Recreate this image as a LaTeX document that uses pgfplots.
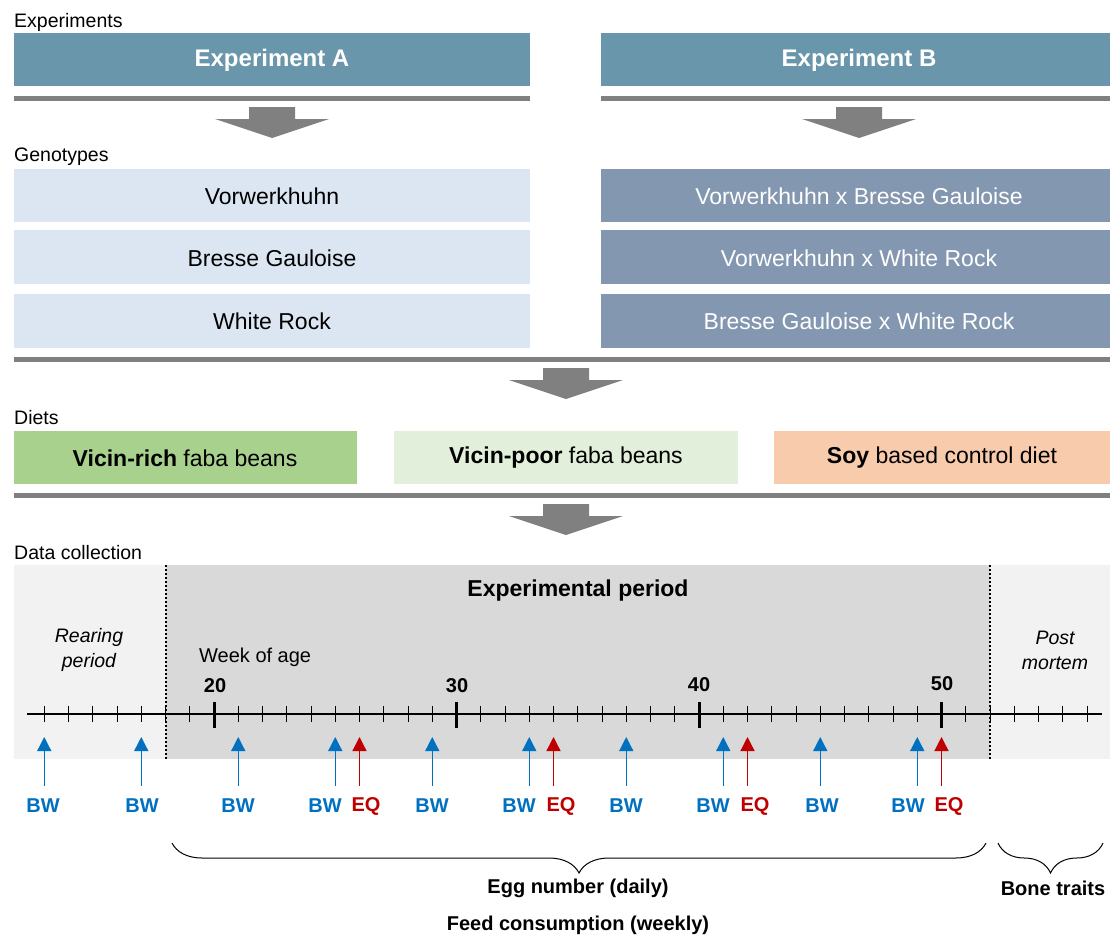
\documentclass[border=0pt]{standalone}
\usepackage{fontspec}
\setmainfont{Liberation Sans}
\usepackage{pgfplots}
\usepackage{pgfplotstable}
\pgfplotsset{compat=1.18}
\usetikzlibrary{arrows.meta,decorations.pathreplacing}

\definecolor{expbox}{HTML}{6996AA}
\definecolor{genoA}{HTML}{DCE6F2}
\definecolor{genoB}{HTML}{8497B0}
\definecolor{dietrich}{HTML}{A9D18E}
\definecolor{dietpoor}{HTML}{E2EFDA}
\definecolor{dietsoy}{HTML}{F8CBAD}
\definecolor{bargray}{HTML}{808080}
\definecolor{regionlight}{HTML}{F2F2F2}
\definecolor{regiondark}{HTML}{D9D9D9}
\definecolor{bwblue}{HTML}{0070C0}
\definecolor{eqred}{HTML}{C00000}

% weeks on the time line (week, start of the tick in pixels)
\pgfplotstableread[row sep=\\]{
week y\\ 13 706\\ 14 706\\ 15 706\\ 16 706\\ 17 706\\ 18 706\\ 19 706\\
21 706\\ 22 706\\ 23 706\\ 24 706\\ 25 706\\ 26 706\\ 27 706\\ 28 706\\ 29 706\\
31 706\\ 32 706\\ 33 706\\ 34 706\\ 35 706\\ 36 706\\ 37 706\\ 38 706\\ 39 706\\
41 706\\ 42 706\\ 43 706\\ 44 706\\ 45 706\\ 46 706\\ 47 706\\ 48 706\\ 49 706\\
51 706\\ 52 706\\ 53 706\\ 54 706\\ 55 706\\ 56 706\\
}\minorweeks
\pgfplotstableread[row sep=\\]{
week y\\ 20 702\\ 30 702\\ 40 702\\ 50 702\\
}\majorweeks
% body weight (BW) and egg quality (EQ) sampling weeks
\pgfplotstableread[row sep=\\]{
week y\\ 13 786\\ 17 786\\ 21 786\\ 25 786\\ 29 786\\ 33 786\\ 37 786\\ 41 786\\ 45 786\\ 49 786\\
}\bwweeks
\pgfplotstableread[row sep=\\]{
week y\\ 26 786\\ 34 786\\ 42 786\\ 50 786\\
}\eqweeks

% a filled box, x1 y1 x2 y2 in pixels
\newcommand{\fillbox}[5]{%
  \addplot[fill=#1, draw=none] coordinates {(#2,#3) (#4,#3) (#4,#5) (#2,#5)};}
% block arrow pointing down, centre x, top y
\newcommand{\blockarrow}[2]{%
  \addplot[fill=bargray, draw=none] coordinates {
    ({#1-23},#2) ({#1+23},#2) ({#1+23},{#2+12}) ({#1+57},{#2+12})
    (#1,{#2+31}) ({#1-57},{#2+12}) ({#1-23},{#2+12})};}

\newcommand{\fsLabel}{\fontsize{19.5}{22}\selectfont}
\newcommand{\fsBox}{\fontsize{23}{27}\selectfont}
\newcommand{\fsHead}{\fontsize{24}{28}\selectfont\bfseries}
\newcommand{\fsTime}{\fontsize{20}{24}\selectfont}

\begin{document}
\begin{tikzpicture}
\begin{axis}[
  width=1110pt, height=936pt, scale only axis,
  xmin=0, xmax=1110, ymin=0, ymax=936, y dir=reverse,
  hide axis, clip=false,
  /pgf/declare function={wx(\w)=214+24.25*(\w-20);},
]
  \fillbox{white}{0}{0}{1110}{936}

  % Experiments
  \fillbox{expbox}{14}{33}{530}{86}
  \fillbox{expbox}{601}{33}{1110}{86}
  \fillbox{bargray}{14}{96}{530}{101}
  \fillbox{bargray}{601}{96}{1110}{101}
  \blockarrow{272}{107}
  \blockarrow{859}{107}

  % Genotypes
  \fillbox{genoA}{14}{169}{530}{222}
  \fillbox{genoA}{14}{230}{530}{284}
  \fillbox{genoA}{14}{294}{530}{348}
  \fillbox{genoB}{601}{169}{1110}{222}
  \fillbox{genoB}{601}{230}{1110}{284}
  \fillbox{genoB}{601}{294}{1110}{348}
  \fillbox{bargray}{14}{357}{1110}{362}
  \blockarrow{566}{368}

  % Diets
  \fillbox{dietrich}{14}{431}{357}{484}
  \fillbox{dietpoor}{394}{431}{738}{484}
  \fillbox{dietsoy}{774}{431}{1110}{484}
  \fillbox{bargray}{14}{493}{1110}{498}
  \blockarrow{566}{504}

  % Data collection
  \fillbox{regionlight}{14}{565}{1110}{759}
  \fillbox{regiondark}{166}{565}{990}{759}

  \addplot[line width=2.5pt, black] coordinates {(27,714) (1102,714)};
  \addplot[line width=1pt, black, quiver={u=0, v=16}]
    table[x expr={wx(\thisrow{week})}, y=y] {\minorweeks};
  \addplot[line width=3pt, black, quiver={u=0, v=26}]
    table[x expr={wx(\thisrow{week})}, y=y] {\majorweeks};
  \addplot[line width=2pt, black, dash pattern=on 2pt off 2pt] coordinates {(166,565) (166,759)};
  \addplot[line width=2pt, black, dash pattern=on 2pt off 2pt] coordinates {(990,565) (990,759)};

  \addplot[line width=1.3pt, bwblue, quiver={u=0, v=-49}, -{Triangle[width=14pt,length=14pt]}]
    table[x expr={wx(\thisrow{week})}, y=y] {\bwweeks};
  \addplot[line width=1.3pt, eqred, quiver={u=0, v=-49}, -{Triangle[width=14pt,length=14pt]}]
    table[x expr={wx(\thisrow{week})}, y=y] {\eqweeks};

  % braces
  \addplot[line width=1pt, black, decorate,
    decoration={brace, mirror, amplitude=30pt}]
    coordinates {(172,843) (986,843)};
  \addplot[line width=1pt, black, decorate,
    decoration={brace, mirror, amplitude=30pt}]
    coordinates {(998,843) (1103,843)};

  % texts
  \node[inner sep=0pt, anchor=west, font=\fsLabel] at (axis cs:14,22) {Experiments};
  \node[inner sep=0pt, anchor=west, font=\fsLabel] at (axis cs:14,157) {Genotypes};
  \node[inner sep=0pt, anchor=west, font=\fsLabel] at (axis cs:14,418) {Diets};
  \node[inner sep=0pt, anchor=west, font=\fsLabel] at (axis cs:14,553) {Data collection};

  \node[white, font=\fsHead] at (axis cs:272,60) {Experiment A};
  \node[white, font=\fsHead] at (axis cs:859,60) {Experiment B};

  \node[font=\fsBox] at (axis cs:272,196) {Vorwerkhuhn};
  \node[font=\fsBox] at (axis cs:272,258) {Bresse Gauloise};
  \node[font=\fsBox] at (axis cs:272,321) {White Rock};
  \node[white, font=\fsBox] at (axis cs:859,196) {Vorwerkhuhn x Bresse Gauloise};
  \node[white, font=\fsBox] at (axis cs:859,258) {Vorwerkhuhn x White Rock};
  \node[white, font=\fsBox] at (axis cs:859,321) {Bresse Gauloise x White Rock};

  \node[font=\fsBox] at (axis cs:185,458) {\textbf{Vicin-rich} faba beans};
  \node[font=\fsBox] at (axis cs:566,458) {\textbf{Vicin-poor} faba beans};
  \node[font=\fsBox] at (axis cs:942,458) {\textbf{Soy} based control diet};

  \node[font=\fsBox\bfseries] at (axis cs:578,591) {Experimental period};
  \node[align=center, font=\fontsize{19.5}{25}\selectfont\itshape] at (axis cs:89,650) {Rearing\\period};
  \node[align=center, font=\fontsize{19.5}{25}\selectfont\itshape] at (axis cs:1055,650) {Post\\mortem};
  \node[inner sep=0pt, anchor=west, font=\fsTime] at (axis cs:199,657) {Week of age};
  \node[font=\fsTime\bfseries] at (axis cs:215,686) {20};
  \node[font=\fsTime\bfseries] at (axis cs:457,686) {30};
  \node[font=\fsTime\bfseries] at (axis cs:699,685) {40};
  \node[font=\fsTime\bfseries] at (axis cs:942,684) {50};

  \pgfplotsinvokeforeach{43,142,238,325,432,519,626,713,822,908}{
    \node[bwblue, font=\fsTime\bfseries] at (axis cs:#1,806) {BW};}
  \pgfplotsinvokeforeach{366,561,755,949}{
    \node[eqred, font=\fsTime\bfseries] at (axis cs:#1,806) {EQ};}

  \node[font=\fsTime\bfseries] at (axis cs:578,888) {Egg number (daily)};
  \node[font=\fsTime\bfseries] at (axis cs:578,925) {Feed consumption (weekly)};
  \node[font=\fsTime\bfseries] at (axis cs:1053,888) {Bone traits};
\end{axis}
\end{tikzpicture}
\end{document}
